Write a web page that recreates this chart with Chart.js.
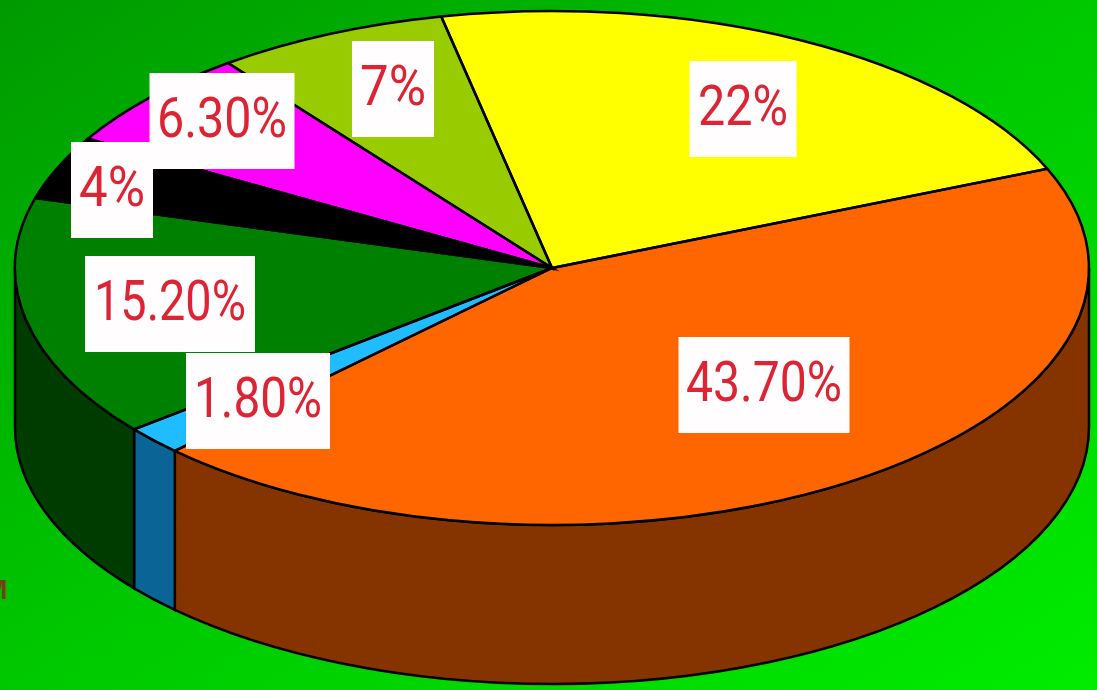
<!DOCTYPE html>
<html>
<head>
<meta charset="utf-8">
<title>Pie</title>
<script src="https://cdn.jsdelivr.net/npm/chart.js@4"></script>
<style>
    html, body { margin: 0; padding: 0; width: 1097px; height: 690px; overflow: hidden; }
    body { background: linear-gradient(to bottom right, #009a00, #00c800 50%, #00ec00); }
    #wrap { width: 1097px; height: 690px; position: relative; filter: blur(0.6px); }
    #note { position: absolute; left: -16px; top: 574px; font: bold 28px "Liberation Sans"; color: #7a3c10; }
</style>
</head>
<body>
<div id="wrap">
    <canvas id="pie-chart" width="1097" height="690"></canvas>
    <div id="note">M</div>
</div>
<script>
const sliceLabels = ["43.70%", "1.80%", "15.20%", "4%", "6.30%", "7%", "22%"];
const sliceValues = [43.7, 1.8, 15.2, 4, 6.3, 7, 22];
const topColors = ["#ff6600", "#1fbcff", "#008000", "#000000", "#ff00ff", "#99cc00", "#ffff00"];
const sideColors = ["#853400", "#0a6496", "#003c00", "#000000", "#800080", "#4d6600", "#808000"];

// where the pie sits on the page, the chart itself only knows circles
const pieBox = { cx: 552, cy: 268, rx: 537, ry: 257, depth: 159 };

// white label boxes: centre x, centre y, width, text width
const labelBoxes = [
    [764, 385, 171, 156],
    [258, 401, 144, 128],
    [170, 304, 170, 152],
    [112, 190, 82, 66],
    [222, 121, 145, 130],
    [393, 89, 82, 66],
    [743, 109, 107, 90],
];

function squash(ctx, arc, offsetY) {
    const k = arc.outerRadius;
    ctx.translate(pieBox.cx, pieBox.cy + offsetY);
    ctx.scale(pieBox.rx / k, pieBox.ry / k);
    ctx.translate(-arc.x, -arc.y);
}

const pie3d = {
    id: "pie3d",
    beforeDatasetsDraw(chart) {
        const ctx = chart.ctx;
        const arcs = chart.getDatasetMeta(0).data;

        // side wall, only the front half of the pie shows it
        arcs.forEach((arc, i) => {
            const a = Math.max(arc.startAngle, 0);
            const b = Math.min(arc.endAngle, Math.PI);
            if (b <= a) return;
            ctx.save();
            ctx.beginPath();
            ctx.save();
            squash(ctx, arc, 0);
            ctx.arc(arc.x, arc.y, arc.outerRadius, a, b);
            ctx.restore();
            ctx.save();
            squash(ctx, arc, pieBox.depth);
            ctx.arc(arc.x, arc.y, arc.outerRadius, b, a, true);
            ctx.restore();
            ctx.closePath();
            ctx.fillStyle = sideColors[i];
            ctx.fill();
            ctx.strokeStyle = "#000";
            ctx.lineWidth = 2.5;
            ctx.stroke();
            ctx.restore();
        });

        ctx.save();
        squash(ctx, arcs[0], 0);
    },
    afterDatasetsDraw(chart) {
        const ctx = chart.ctx;
        ctx.restore();

        // outlines are stroked without the squash so they keep an even width
        chart.getDatasetMeta(0).data.forEach((arc) => {
            ctx.save();
            ctx.beginPath();
            ctx.save();
            squash(ctx, arc, 0);
            ctx.moveTo(arc.x, arc.y);
            ctx.arc(arc.x, arc.y, arc.outerRadius, arc.startAngle, arc.endAngle);
            ctx.closePath();
            ctx.restore();
            ctx.strokeStyle = "#000";
            ctx.lineWidth = 2.5;
            ctx.stroke();
            ctx.restore();
        });

        ctx.save();
        ctx.textAlign = "center";
        ctx.textBaseline = "middle";
        labelBoxes.forEach((box, i) => {
            ctx.fillStyle = "#fffdfd";
            ctx.fillRect(box[0] - box[2] / 2, box[1] - 48, box[2], 96);
            ctx.fillStyle = "#dc2434";
            ctx.font = "400 55px Roboto";
            ctx.fillText(chart.data.labels[i], box[0], box[1] + 2, box[3]);
        });
        ctx.restore();
    },
};

const pieElem = document.getElementById("pie-chart").getContext("2d");
const pieChart = new Chart(pieElem, {
    type: "pie",
    data: {
        labels: sliceLabels,
        datasets: [
            {
                data: sliceValues,
                backgroundColor: topColors,
                borderWidth: 0,
            },
        ],
    },
    options: {
        responsive: false,
        animation: false,
        rotation: 67.3,
        plugins: {
            legend: { display: false },
            tooltip: { enabled: false },
        },
    },
    plugins: [pie3d],
});
</script>
</body>
</html>
